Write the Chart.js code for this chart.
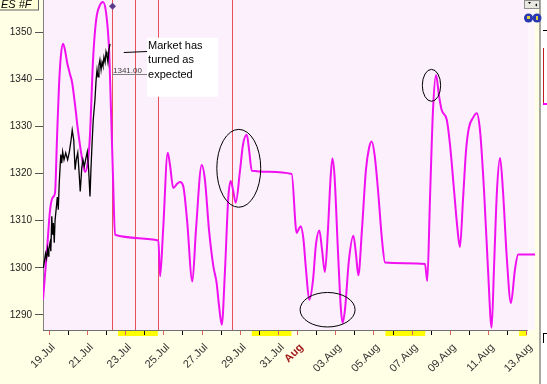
<!DOCTYPE html>
<html><head><meta charset="utf-8">
<script src="https://cdn.jsdelivr.net/npm/chart.js@4/dist/chart.umd.min.js"></script>
<style>html,body{margin:0;padding:0;background:#ffffe6;overflow:hidden}</style>
</head><body>
<canvas id="c" width="547" height="384"></canvas>
<script>
// ---------- data ----------
const tickDays   = [0,2,4,6,8,10,12,13,15,17,19,21,23,25];
const tickLabels = ['19.Jul','21.Jul','23.Jul','25.Jul','27.Jul','29.Jul','31.Jul','Aug','03.Aug','05.Aug','07.Aug','09.Aug','11.Aug','13.Aug'];
const yTicks = [1290,1300,1310,1320,1330,1340,1350];

const priceDays = [-0.31,-0.25,-0.20,-0.15,-0.09,-0.05,-0.02,0.04,0.08,0.13,0.17,0.21,0.26,0.30,0.39,0.42,0.47,0.52,0.60,0.65,0.70,0.77,0.86,0.96,1.05,1.14,1.20,1.28,1.35,1.41,1.49,1.55,1.62,1.70,1.76,1.83,1.92,1.99,2.06,2.13,2.18,2.24,2.30,2.39,2.45,2.50,2.55,2.60,2.65,2.71,2.76,2.81,2.86,2.92,2.97,3.02,3.07,3.12,3.18];
const priceValues = [1300,1301.5,1303,1302,1304,1302.5,1304,1305.3,1303.5,1310.9,1307,1309.5,1305.3,1310,1313.7,1315,1312.3,1318,1324,1322.2,1324.6,1322.9,1324.4,1322.9,1324.6,1327.1,1329.2,1327.1,1320.8,1322.9,1324.4,1320.8,1316.2,1321.2,1322.9,1321.5,1323.3,1324.6,1320.8,1315.1,1320.8,1326.5,1331.4,1335.6,1339.8,1342,1340.5,1343,1344.1,1342,1343.6,1342.8,1344.7,1343.6,1345.8,1344.9,1343.6,1346.2,1347.5];

const forecastDays = [-0.33,-0.225,-0.12,0.04,0.19,0.30,0.40,0.51,0.61,0.72,0.82,0.93,1.08,1.19,1.35,1.50,1.71,1.87,2.03,2.13,2.29,2.45,2.65,2.81,2.97,3.13,3.23,3.34,3.44,5.71,5.80,5.96,6.20,6.32,6.49,6.69,6.84,7.02,7.21,7.49,7.68,7.98,8.15,8.36,8.59,8.76,8.88,9.03,9.20,9.37,9.50,9.62,9.76,9.99,10.14,10.34,10.46,10.60,12.69,12.95,13.05,13.16,13.30,13.44,13.61,13.81,13.96,14.14,14.28,14.43,14.59,14.72,14.82,14.93,15.11,15.27,15.36,15.48,15.69,15.92,16.06,16.18,16.37,16.58,16.74,16.88,17.03,17.21,17.42,17.58,19.67,19.79,19.93,20.09,20.25,20.40,20.54,20.81,20.98,21.19,21.35,21.50,21.66,21.82,21.97,22.18,22.38,22.55,22.76,22.97,23.16,23.28,23.44,23.60,23.75,23.96,24.17,24.38,24.55,25.43];
const forecastValues = [1293.2,1298.5,1303.8,1312.3,1315.0,1315.9,1327.1,1338.8,1345.1,1347.5,1346.2,1343.6,1341.1,1339.4,1334.5,1329.2,1323.3,1320.3,1322.9,1328.2,1344.1,1352.5,1355.7,1356.4,1354.2,1346.2,1333.5,1318.6,1307.0,1305.8,1298.2,1308.1,1324.4,1321.8,1316.9,1317.8,1318.2,1317.2,1310.2,1297.1,1308.1,1321.8,1318.6,1308.1,1300.3,1296.8,1292.2,1287.9,1299.6,1314.8,1318.4,1316.5,1313.8,1320.8,1326.1,1328.2,1325.0,1320.6,1319.9,1307.4,1308.1,1308.8,1306.3,1299.6,1293.2,1297.5,1304.9,1307.9,1303.8,1299.1,1308.1,1318.6,1323.2,1319.7,1303.8,1291.1,1288.3,1291.1,1301.7,1306.8,1302.8,1298.4,1308.1,1320.8,1325.4,1326.8,1324.0,1316.5,1305.9,1301.1,1300.8,1297.2,1314.4,1333.5,1340.9,1336.6,1333.5,1331.4,1326.1,1316.5,1309.1,1304.4,1314.4,1324.9,1329.7,1331.8,1332.8,1329.2,1316.5,1299.6,1287.3,1299.6,1316.5,1323.3,1316.5,1301.7,1292.5,1299.6,1302.8,1302.8];

const signalDays = [3.29,4.49,5.69,9.58];
const weekendStart = [3.6,10.6,17.6,24.6];
const weekendEnd   = [5.68,12.68,19.68,25.0];
const ellipseDays = [9.92,14.57,20.01];
const ellipseValues = [1321.1,1291.1,1338.7];
const ellipseHalfDays = [1.15,1.44,0.48];
const ellipseHalfValues = [8.26,3.66,3.39];
const lastPrice = 1341.00;
const noteLines = ['Market has','turned as','expected'];

const FONT = "'Liberation Sans', Arial, sans-serif";
const allDays = [];
for (let d = 0; d <= 25; d++) allDays.push(d);

const deco = {
  id:'deco',
  beforeDraw(chart){
    const {ctx, chartArea:a, scales:{x,y}} = chart;
    ctx.save();
    ctx.fillStyle = '#ffffe6';
    ctx.fillRect(0,0,chart.width,chart.height);
    ctx.fillStyle = '#fcf0fc';
    ctx.fillRect(a.left,a.top,a.right-a.left,a.bottom-a.top);
    ctx.fillStyle = '#fdf6fd';
    const x25 = x.getPixelForValue(25);
    ctx.fillRect(x25+1,a.top,a.right-x25-1,a.bottom-a.top);
    ctx.fillStyle = '#ffff00';
    for (let i=0;i<weekendStart.length;i++){
      const x0 = x.getPixelForValue(weekendStart[i]), x1 = x.getPixelForValue(weekendEnd[i]);
      ctx.fillRect(x0, a.bottom+1, x1-x0, 5);
    }
    ctx.restore();
  },
  beforeDatasetsDraw(chart){
    const {ctx, chartArea:a, scales:{x}} = chart;
    ctx.save();
    ctx.fillStyle = '#e8505a';
    signalDays.forEach(d=>{
      const px = Math.round(x.getPixelForValue(d));
      ctx.fillRect(px, a.top, 1, a.bottom-a.top);
    });
    ctx.restore();
  },
  afterDatasetsDraw(chart){
    const {ctx, chartArea:a, scales:{x,y}} = chart;
    ctx.save();
    ctx.strokeStyle = '#000'; ctx.lineWidth = 1;
    for (let i=0;i<ellipseDays.length;i++){
      const cx = x.getPixelForValue(ellipseDays[i]), cy = y.getPixelForValue(ellipseValues[i]);
      const rx = x.getPixelForValue(ellipseDays[i]+ellipseHalfDays[i]) - cx;
      const ry = cy - y.getPixelForValue(ellipseValues[i]+ellipseHalfValues[i]);
      ctx.beginPath(); ctx.ellipse(cx,cy,rx,ry,0,0,Math.PI*2); ctx.stroke();
    }
    const sx = Math.round(x.getPixelForValue(signalDays[0]));
    const ly = Math.round(y.getPixelForValue(lastPrice))+0.5;
    const bx = x.getPixelForValue(5.12);
    ctx.strokeStyle = '#808080';
    ctx.beginPath(); ctx.moveTo(sx,ly); ctx.lineTo(bx,ly); ctx.stroke();
    ctx.fillStyle = '#404040'; ctx.font = '8px '+FONT; ctx.textBaseline='alphabetic';
    ctx.fillText(lastPrice.toFixed(2), sx+1, ly-2);
    const by = y.getPixelForValue(1348.8);
    ctx.fillStyle = '#ffffff';
    ctx.fillRect(bx, by, 71, 59);
    ctx.fillStyle = '#000'; ctx.font = '11px '+FONT;
    noteLines.forEach((t,i)=> ctx.fillText(t, bx+1, by+11+i*14.5));
    const ly2 = Math.round(y.getPixelForValue(1345.8))+0.5;
    ctx.strokeStyle = '#000';
    ctx.beginPath(); ctx.moveTo(x.getPixelForValue(3.9), ly2); ctx.lineTo(bx, ly2-1); ctx.stroke();
    const dy = y.getPixelForValue(1355.5);
    ctx.fillStyle = '#5a3a8a';
    ctx.beginPath(); ctx.moveTo(sx+0.5,dy-3.5); ctx.lineTo(sx+4,dy); ctx.lineTo(sx+0.5,dy+3.5); ctx.lineTo(sx-3,dy); ctx.closePath(); ctx.fill();
    ctx.restore();
  },
  afterDraw(chart){
    const {ctx, chartArea:a, scales:{x,y}} = chart;
    ctx.save();
    ctx.strokeStyle = '#707070'; ctx.lineWidth = 1;
    ctx.beginPath(); ctx.moveTo(a.left, a.bottom+0.5); ctx.lineTo(x.getPixelForValue(25)+1, a.bottom+0.5); ctx.stroke();
    ctx.fillStyle = '#ffffd8'; ctx.fillRect(0,0,39,10);
    ctx.strokeStyle = '#606060'; ctx.strokeRect(-0.5,-0.5,39,10.5);
    ctx.fillStyle = '#000'; ctx.font = 'italic 11px '+FONT; ctx.textBaseline='alphabetic';
    ctx.fillText('ES #F', 1, 8);
    ctx.fillStyle = '#ffffe6'; ctx.fillRect(a.right, 0, 5, chart.height);
    ctx.fillStyle = '#a8a8a0'; ctx.fillRect(539, 0, 2, chart.height);
    ctx.fillStyle = '#ffffff'; ctx.fillRect(541, 0, 6, chart.height);
    ctx.fillStyle = '#000'; ctx.fillRect(543, 30, 4, 1);
    ctx.fillStyle = '#c02020'; ctx.fillRect(543, 48, 1, 55);
    ctx.fillStyle = '#ff00ff'; ctx.fillRect(543, 103, 4, 2);
    ctx.fillStyle = '#000'; ctx.fillRect(543, 333, 4, 1); ctx.fillRect(543,333,1,10);
    ctx.fillStyle = '#e8e8e0'; ctx.fillRect(524,0,16,9);
    ctx.strokeStyle = '#909090'; ctx.strokeRect(524.5,0.5,15,8);
    ctx.fillStyle = '#000';
    ctx.beginPath(); ctx.moveTo(528,2); ctx.lineTo(531,2); ctx.lineTo(529.5,4); ctx.fill();
    ctx.beginPath(); ctx.moveTo(535,5); ctx.lineTo(537,3.5); ctx.lineTo(537,6.5); ctx.fill();
    ctx.fillStyle = '#2838b0';
    ctx.beginPath(); ctx.arc(528.5,18,4.5,0,Math.PI*2); ctx.fill();
    ctx.beginPath(); ctx.arc(537,18,4.5,0,Math.PI*2); ctx.fill();
    ctx.fillStyle = '#e0d040';
    ctx.fillRect(527,16,3,3); ctx.fillRect(536,16,2,4);
    ctx.restore();
  }
};

const priceData = priceDays.map((d,i)=>({x:d, y:priceValues[i]}));
const forecastData = forecastDays.map((d,i)=>({x:d, y:forecastValues[i]}));

new Chart(document.getElementById('c'), {
  type:'line',
  data:{datasets:[
    {label:'ES #F', data:priceData, borderColor:'#000', borderWidth:1.3, pointRadius:0, tension:0, order:1},
    {label:'Forecast', data:forecastData, borderColor:'#f010f0', borderWidth:2, pointRadius:0, cubicInterpolationMode:'monotone', order:2}
  ]},
  options:{
    responsive:false, animation:false, devicePixelRatio:1,
    layout:{padding:{left:0,right:12,top:0,bottom:0}},
    plugins:{legend:{display:false}, tooltip:{enabled:false}},
    scales:{
      x:{type:'linear', min:-0.33, max:25.43,
        afterBuildTicks: s => { s.ticks = allDays.map(v=>({value:v})); },
        afterFit: s => { s.height = 54; s.paddingLeft = 0; s.paddingRight = 0; },
        border:{display:false},
        grid:{drawOnChartArea:false, drawTicks:true, tickLength:5, tickWidth:1,
          tickColor: c => (c.tick && tickDays.includes(c.tick.value)) ? '#e06060' : '#000'},
        ticks:{autoSkip:false, maxRotation:45, minRotation:45, padding:6, labelOffset:4,
          callback: v => { const i = tickDays.indexOf(v); return i>=0 ? tickLabels[i] : ''; },
          color: c => (c.tick && c.tick.label==='Aug') ? '#a01818' : '#333',
          font: c => ({family:FONT, size:11, weight:(c.tick && c.tick.label==='Aug') ? 'bold':'normal'})}
      },
      y:{type:'linear', min:1286.8, max:1356.8,
        afterBuildTicks: s => { s.ticks = yTicks.map(v=>({value:v})); },
        afterFit: s => { s.width = 43; s.paddingTop = 0; s.paddingBottom = 0; },
        border:{display:true, color:'#808080', width:1},
        grid:{drawOnChartArea:false, drawTicks:true, tickLength:8, tickColor:'#555'},
        ticks:{padding:3, color:'#222', font:{family:FONT, size:10}, callback:v=>String(v)}
      }
    }
  },
  plugins:[deco]
});
</script>
</body></html>
